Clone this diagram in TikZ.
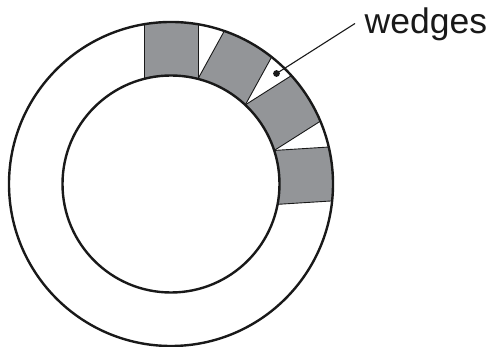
\documentclass[tikz,border=0pt]{standalone}
\usepackage{fontspec}
\setmainfont{Liberation Sans}
\definecolor{wedgegray}{RGB}{147,149,152}
\begin{document}
\begin{tikzpicture}[x=1pt,y=1pt,
  ring/.style={line width=2.4pt,black!90},
  wedgeside/.style={line width=0.9pt,black!90},
  leader/.style={line width=1.1pt,black!90},
  wedgefill/.style={fill=wedgegray},
  label/.style={inner sep=0pt,anchor=base west,font=\fontsize{35.5}{40}\selectfont,text=black!90}]
\useasboundingbox (0,0) rectangle (489,347);
\coordinate (C) at (171,163);
% wedges clipped to the annulus
\begin{scope}[even odd rule]
  \clip (C) circle[radius=162pt] (C) circle[radius=108.5pt];
  \foreach \a in {90,61.2,32.4,3.6} {
    \begin{scope}[shift={(171,163)},rotate=\a-90]
      \fill[wedgefill] (-27,105.1) rectangle (27,175);
    \end{scope}
  }
\end{scope}
\foreach \a in {90,61.2,32.4,3.6} {
  \begin{scope}[shift={(171,163)},rotate=\a-90]
    \draw[wedgeside] (-27,105.1) -- (-27,159.7);
    \draw[wedgeside] (27,105.1) -- (27,159.7);
  \end{scope}
}
% rings
\draw[ring] (C) circle[radius=162pt];
\draw[ring] (C) circle[radius=108.5pt];
% label and leader
\node[label] (lbl) at (364.5,313.7) {wedges};
\coordinate (dot) at (276.5,273.5);
\coordinate (tip) at (355,323.5);
\fill[black!90] (dot) circle[radius=3.4pt];
\draw[leader] (dot) -- (tip);
\end{tikzpicture}
\end{document}
